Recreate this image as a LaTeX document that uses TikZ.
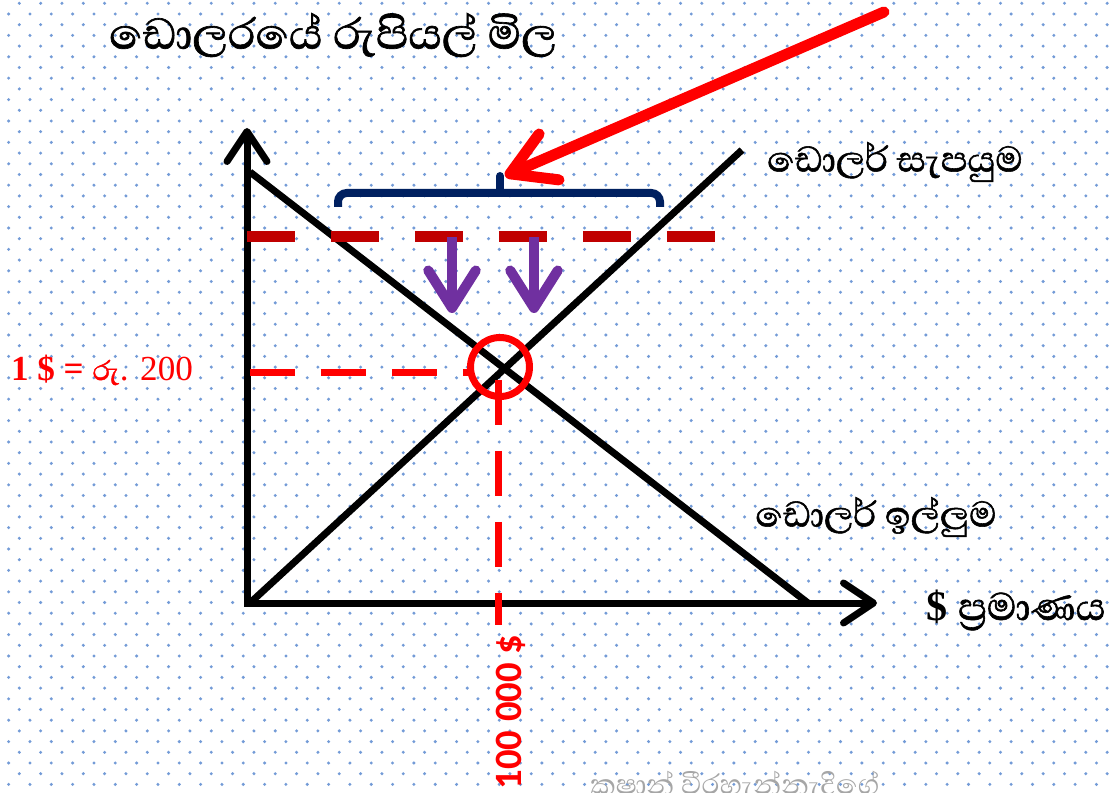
\documentclass[tikz,border=0pt]{standalone}
\usepackage{fontspec}
\setmainfont{Liberation Serif}
\newfontfamily\sinhala[Script=Sinhala,FakeBold=1.2]{Abhaya Libre}
\newfontfamily\sinhalathin[Script=Sinhala]{Abhaya Libre}
\newfontfamily\carlito{Carlito}
\usetikzlibrary{arrows.meta}
\definecolor{dotblue}{RGB}{115,155,215}
\definecolor{pricered}{HTML}{FF0000}
\definecolor{lvlred}{HTML}{C00000}
\definecolor{shiftpurple}{HTML}{7030A0}
\definecolor{bracenavy}{HTML}{002060}
\begin{document}
\begin{tikzpicture}[x=0.02cm,y=-0.02cm,
    curveline/.style={line width=0.14cm},
    axisline/.style={line width=0.14cm,
      {Straight Barb[length=0.6cm,width=0.8cm,round]}-{Straight Barb[length=0.6cm,width=0.8cm,round]}},
    guideline/.style={pricered,line width=0.14cm,dash pattern=on 0.9cm off 0.52cm},
    highprice/.style={lvlred,line width=0.22cm,dash pattern=on 0.96cm off 0.72cm},
    downarrow/.style={shiftpurple,line width=0.2cm,-{Straight Barb[length=0.75cm,width=0.95cm,round]}},
    pointer/.style={pricered,line width=0.22cm,line cap=round,-{Straight Barb[length=0.85cm,width=1cm,round]}},
    sinhalatext/.style={font=\sinhala\fontsize{26}{30}\selectfont},
  ]
    \useasboundingbox (0,0) rectangle (1115,793);
    \fill[white] (0,0) rectangle (1115,793);

    % dotted paper
    \foreach \r in {0,...,73}{
        \pgfmathsetmacro\dx{mod(\r,2)*10.67}
        \foreach \c in {0,...,52}
            \fill[dotblue] (19.3-\dx+21.33*\c,3.3+10.7*\r) circle (0.95pt);
    }

    % axes
    \coordinate (O) at (247,603);
    \coordinate (ytip) at (247,128);
    \coordinate (xtip) at (877,603);
    \draw[axisline] (ytip) -- (O) -- (xtip);

    % demand and supply
    \coordinate (dstart) at (250,172);
    \coordinate (dend) at (808,603);
    \coordinate (sstart) at (250,603);
    \coordinate (send) at (742,150);
    \draw[curveline] (dstart) -- (dend);
    \draw[curveline] (sstart) -- (send);

    % equilibrium
    \coordinate (E) at (500,367);
    \draw[guideline] (250,373) -- (470,373);
    \draw[guideline] (498,380) -- (498,625);
    \draw[pricered,line width=0.14cm] (E) circle (29.5);

    % price too high
    \draw[highprice] (247,237) -- (715,237);
    \draw[downarrow] (452,237) -- (452,313);
    \draw[downarrow] (534,237) -- (534,313);

    % brace over the gap
    \draw[bracenavy,line width=0.16cm,rounded corners=5] (338,207) -- (338,193) -- (660,193) -- (660,207);
    \draw[bracenavy,line width=0.16cm,line cap=round] (500,193) -- (500,176);
    \draw[pointer] (884,12) -- (505,176);

    % texts
    \node[font=\sinhala\fontsize{31.5}{36}\selectfont] (title) at (333,35) {ඩොලරයේ රුපියල් මිල};
    \node[sinhalatext] (supply) at (895,162) {ඩොලර් සැපයුම};
    \node[sinhalatext] (demand) at (876,517) {ඩොලර් ඉල්ලුම};
    \node[sinhalatext] (qty) at (1016,610) {{\fontsize{24}{28}\selectfont\bfseries\rmfamily \$}\hspace{6pt}{\fontsize{28}{32}\selectfont ප්^^^^200dරමාණය}};
    \node[pricered,font=\fontsize{20}{24}\selectfont] (price) at (102,370)
        {\textbf{1 \$ =} {\sinhala රු}. 200};
    \node[pricered,rotate=90,font=\carlito\bfseries\fontsize{22}{26}\selectfont] (amount) at (511,712) {100 000 \$};
    \begin{scope}
        \clip (0,0) rectangle (1115,793);
        \node[gray!70,font=\sinhalathin\fontsize{20.5}{24}\selectfont] (mark) at (735,787) {කුෂාන් වීරහැන්නැදිගේ};
    \end{scope}
\end{tikzpicture}
\end{document}
